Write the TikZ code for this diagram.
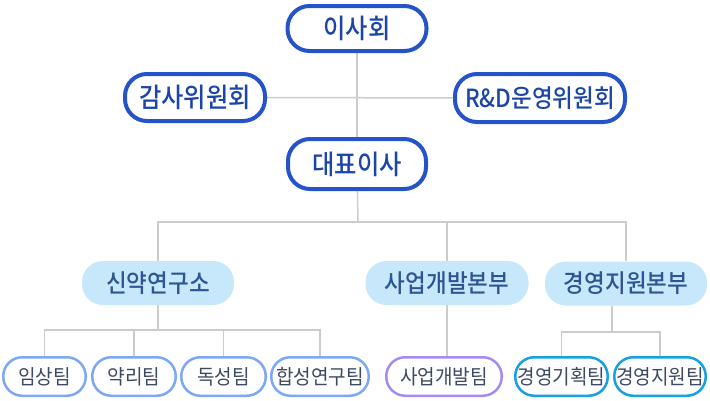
\documentclass[tikz,border=0pt]{standalone}
\usepackage{fontspec}
\newfontfamily\krmed{Noto Sans CJK KR Medium}[FakeStretch=0.9]
\newfontfamily\krreg{Noto Sans CJK KR}[FakeStretch=0.93]
\usetikzlibrary{backgrounds}
\definecolor{topblue}{HTML}{2454C8}
\definecolor{toptext}{HTML}{1B46A8}
\definecolor{midfill}{HTML}{C7E7FB}
\definecolor{midtext}{HTML}{2D5592}
\definecolor{teamA}{HTML}{7EA7F4}
\definecolor{teamB}{HTML}{A68BF2}
\definecolor{teamC}{HTML}{17A1E1}
\definecolor{teamtext}{HTML}{3D4A63}
\definecolor{linegray}{HTML}{CCCCCC}
\tikzset{
  topbox/.style={draw=topblue, line width=4pt, fill=white, rounded corners=22pt,
    text=toptext, font=\krmed\fontsize{27}{27}\selectfont, inner sep=0pt},
  midbox/.style={fill=midfill, rounded corners=21pt, minimum height=44pt,
    text=midtext, font=\krmed\fontsize{25}{25}\selectfont, inner sep=0pt},
  teambox/.style={draw=#1, line width=2.5pt, fill=white, rounded corners=19pt,
    minimum height=38.5pt, text=teamtext, font=\krreg\fontsize{20.5}{20.5}\selectfont, inner sep=0pt},
  conn/.style={draw=linegray, line width=1.5pt}
}
\begin{document}
\begin{tikzpicture}[x=1pt,y=-1pt]
\useasboundingbox (0,0) rectangle (710,400);
% top level
\node[topbox, minimum width=139pt, minimum height=45pt] (board) at (357,28.5) {이사회};
\node[topbox, minimum width=140pt, minimum height=47pt] (audit) at (195,97.5) {감사위원회};
\node[topbox, minimum width=170pt, minimum height=48pt, font=\krmed\fontsize{25}{25}\selectfont] (rnd) at (540,98) {R\&D운영위원회};
\node[topbox, minimum width=138pt, minimum height=50pt] (ceo) at (357,164) {대표이사};
% middle level
\node[midbox, minimum width=152pt] (lab) at (158,283) {신약연구소};
\node[midbox, minimum width=163pt] (biz) at (447,283) {사업개발본부};
\node[midbox, minimum width=162pt] (mgmt) at (626,283.5) {경영지원본부};
% teams
\node[teambox=teamA, minimum width=82.5pt] (t1) at (44.5,376.5) {임상팀};
\node[teambox=teamA, minimum width=83.5pt] (t2) at (134,376.5) {약리팀};
\node[teambox=teamA, minimum width=84.5pt] (t3) at (223.5,376.5) {독성팀};
\node[teambox=teamA, minimum width=97.5pt] (t4) at (320,376.5) {합성연구팀};
\node[teambox=teamB, minimum width=115.5pt] (t5) at (444,376.5) {사업개발팀};
\node[teambox=teamC, minimum width=92.5pt] (t6) at (561.5,376.5) {경영기획팀};
\node[teambox=teamC, minimum width=91.5pt] (t7) at (660,376.5) {경영지원팀};
% connector joints
\coordinate (bus) at (358,222);
\coordinate (labbus) at (158,330);
\coordinate (mgmtbus) at (612,332);
\begin{scope}[on background layer]
\draw[conn] (board) -- (ceo);
\draw[conn] (audit) -- (rnd);
\draw[conn] (ceo) -- (bus);
\draw[conn] (lab.north) -- (lab.north |- bus) -- (mgmt.north |- bus) -- (mgmt.north);
\draw[conn] (biz.north) -- (biz.north |- bus);
\draw[conn] (lab.south) -- (labbus);
\draw[conn] (t1.north) |- (labbus) -| (t4.north);
\draw[conn] (t2.north) -- (t2.north |- labbus);
\draw[conn] (t3.north) -- (t3.north |- labbus);
\draw[conn] (biz.south) -- (biz.south |- t5.north);
\draw[conn] (mgmt.south -| mgmtbus) -- (mgmtbus);
\draw[conn] (t6.north) |- (mgmtbus) -| (t7.north);
\end{scope}
\end{tikzpicture}
\end{document}
